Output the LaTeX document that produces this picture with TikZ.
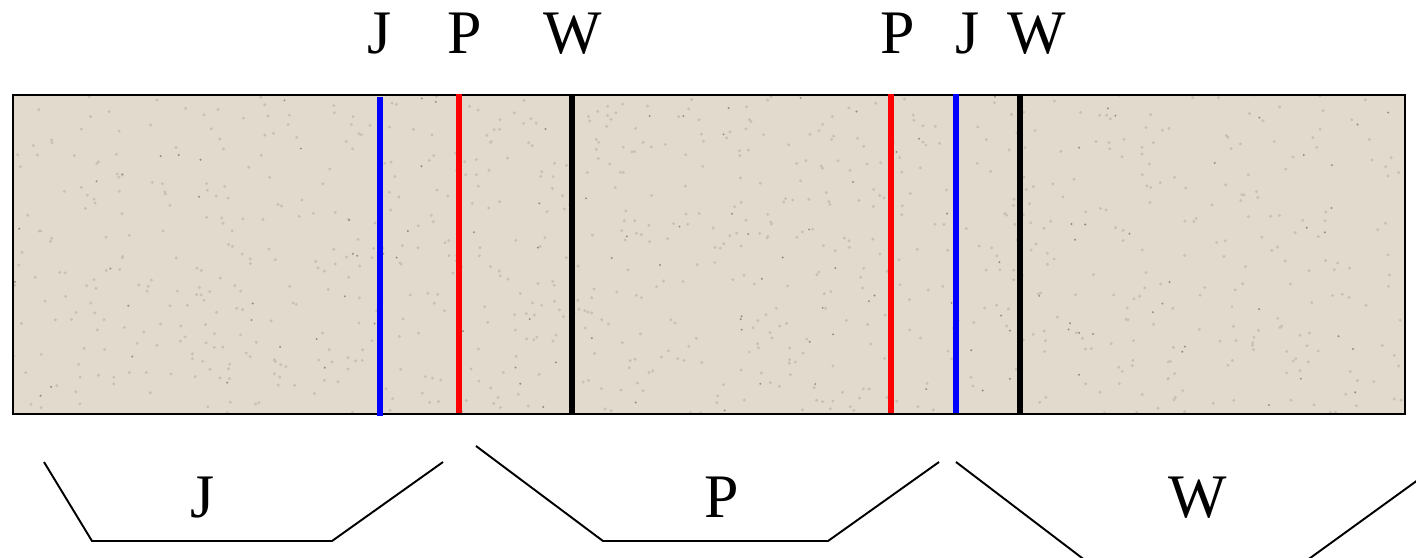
\documentclass[tikz,border=0pt]{standalone}
\usepackage{fontspec}
\setmainfont{Liberation Serif}
\definecolor{paper}{RGB}{226,218,204}
\definecolor{speck}{RGB}{200,192,178}
\definecolor{speckdark}{RGB}{150,142,130}
\definecolor{jblue}{RGB}{0,0,255}
\definecolor{pred}{RGB}{255,0,0}
\tikzset{
  lab/.style={font=\fontsize{17.6pt}{20pt}\selectfont, anchor=base, inner sep=0pt},
  mark line/.style={line width=1.6pt},
  bracket/.style={line width=0.55pt, line join=miter},
}
\begin{document}
\begin{tikzpicture}[x=0.01cm,y=-0.01cm]
\useasboundingbox (0,0) rectangle (1416,557);
% strip
\fill[paper] (12,94) rectangle (1404,413);
\begin{scope}
\clip (12,94) rectangle (1404,413);
\pgfmathsetseed{7}
\foreach \i in {1,...,900}{
  \pgfmathsetmacro{\xx}{12+1392*rnd}
  \pgfmathsetmacro{\yy}{94+319*rnd}
  \fill[speck] (\xx,\yy) circle (1.6);
}
\foreach \i in {1,...,120}{
  \pgfmathsetmacro{\xx}{12+1392*rnd}
  \pgfmathsetmacro{\yy}{94+319*rnd}
  \fill[speckdark] (\xx,\yy) circle (1.1);
}
\end{scope}
\node[draw=black, line width=0.6pt, inner sep=0pt, minimum width=1392*0.01cm, minimum height=319*0.01cm, anchor=north west] (strip) at (12,94) {};
% marker lines
\coordinate (j1t) at (380,97);  \coordinate (j1b) at (380,416);
\coordinate (p1t) at (459,94);  \coordinate (p1b) at (459,413);
\coordinate (w1t) at (572,94);  \coordinate (w1b) at (572,413);
\coordinate (p2t) at (891,94);  \coordinate (p2b) at (891,413);
\coordinate (j2t) at (956,94);  \coordinate (j2b) at (956,413);
\coordinate (w2t) at (1020,94); \coordinate (w2b) at (1020,413);
\draw[mark line, jblue] (j1t) -- (j1b);
\draw[mark line, pred] (p1t) -- (p1b);
\draw[mark line, black] (w1t) -- (w1b);
\draw[mark line, pred] (p2t) -- (p2b);
\draw[mark line, jblue] (j2t) -- (j2b);
\draw[mark line, black] (w2t) -- (w2b);
% top labels
\node[lab] (tj1) at (380,53) {J};
\node[lab] (tp1) at (465,53) {P};
\node[lab] (tw1) at (573,53) {W};
\node[lab] (tp2) at (898,53) {P};
\node[lab] (tj2) at (968,53) {J};
\node[lab] (tw2) at (1037,53) {W};
% brackets
\draw[bracket] (44,462) -- (92,541) -- (332,541) -- (443,462);
\draw[bracket] (476,446) -- (603,541) -- (828,541) -- (939,462);
\begin{scope}
\clip (0,0) rectangle (1416,557);
\draw[bracket] (956,462) -- (1086,561) -- (1306,561) -- (1422,477);
\end{scope}
% bottom labels
\node[lab] (bj) at (203,517) {J};
\node[lab] (bp) at (722,517) {P};
\node[lab] (bw) at (1198,517) {W};
\end{tikzpicture}
\end{document}
